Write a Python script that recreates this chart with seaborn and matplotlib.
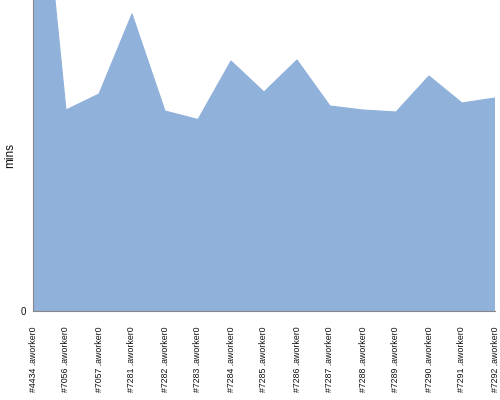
import numpy as np
import pandas as pd
import matplotlib
matplotlib.use('Agg')
import matplotlib.pyplot as plt
import seaborn as sns

workers = ['#4434 .aworker0', '#7056 .aworker0', '#7057 .aworker0',
           '#7281 .aworker0', '#7282 .aworker0', '#7283 .aworker0',
           '#7284 .aworker0', '#7285 .aworker0', '#7286 .aworker0',
           '#7287 .aworker0', '#7288 .aworker0', '#7289 .aworker0',
           '#7290 .aworker0', '#7291 .aworker0', '#7292 .aworker0']
mins = [106.2, 40.2, 43.4, 59.4, 40.0, 38.3, 50.0, 43.8, 50.2,
        41.0, 40.2, 39.8, 47.0, 41.6, 42.6]


def area(df):
    """
    Draws the filled area chart of minutes per worker.
    """
    sns.set_style('white')
    plt.rcParams['font.family'] = ['Liberation Sans', 'DejaVu Sans']
    fig = plt.figure(figsize=(5, 4), dpi=100)
    ax = fig.add_axes([0.066, 0.2225, 0.924, 0.7775])
    color = '#8fb1da'
    pos = np.arange(len(df))
    sns.lineplot(x=pos, y=df['mins'].values, ax=ax, color=color, lw=0.8)
    ax.fill_between(pos, 0, df['mins'].values, color=color, lw=0)
    ax.set_xlim(0, len(df) - 1)
    ax.set_ylim(0, 62.2)
    ax.set_xticks(pos)
    ax.set_xticklabels(df['worker'], rotation=90, fontsize=6.3,
                       color='#111111')
    ax.set_yticks([0])
    ax.set_yticklabels(['0'], fontsize=7, color='#111111')
    ax.tick_params(axis='x', length=0, pad=11)
    ax.tick_params(axis='y', length=3, color='#888888', pad=2)
    for side in ['top', 'right']:
        ax.spines[side].set_visible(False)
    for side in ['left', 'bottom']:
        ax.spines[side].set_color('#888888')
        ax.spines[side].set_linewidth(0.8)
    ax.set_ylabel('mins', fontsize=8.5, color='#111111')
    ax.yaxis.set_label_coords(-0.037, 0.5)
    plt.savefig('out.png', dpi=100)


def main():
    df = pd.DataFrame({'worker': workers, 'mins': mins})
    area(df)


if __name__ == '__main__':
    main()
